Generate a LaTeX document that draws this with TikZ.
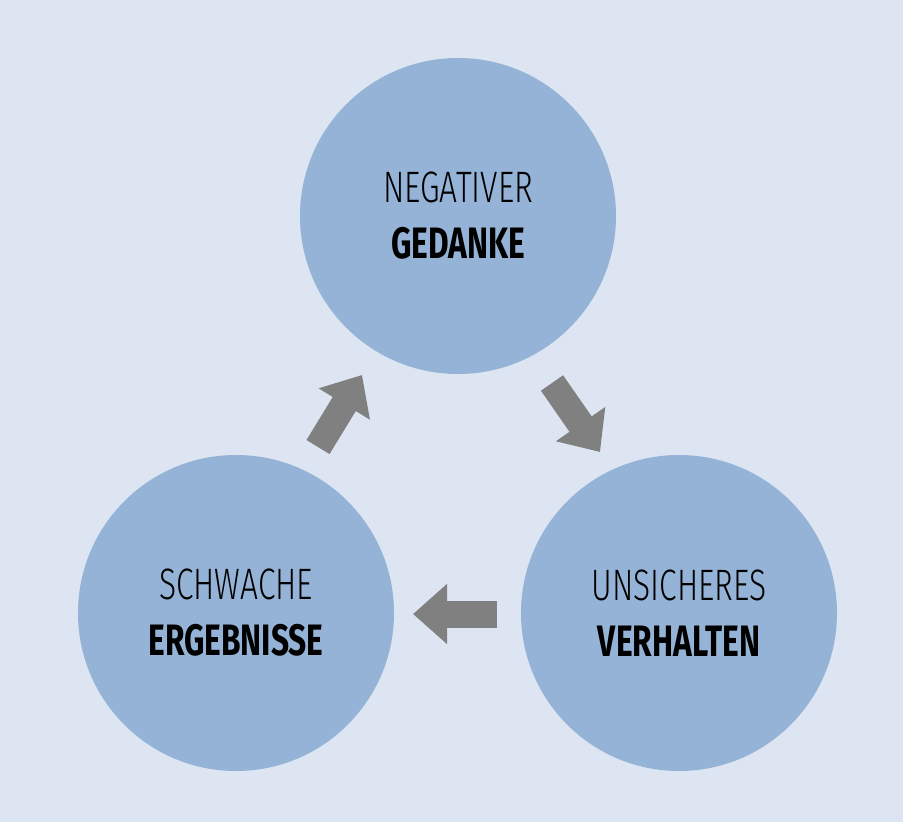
\documentclass[tikz,border=0pt]{standalone}
\usepackage{fontspec}
\setmainfont{Fira Sans}[FakeStretch=0.72]
\newfontfamily\lightf{Fira Sans Light}[FakeStretch=0.72]
\usetikzlibrary{arrows.meta}
\definecolor{bg}{HTML}{DCE5F1}
\definecolor{circ}{HTML}{95B3D7}
\definecolor{arr}{HTML}{808080}
\tikzset{
  bub/.style={circle,fill=circ,minimum size=316pt,inner sep=0pt,align=center,
    font=\fontsize{44}{56}\selectfont},
  blk/.style={draw=arr,line width=27pt,-{Triangle[length=34pt,width=58pt]}}
}
\begin{document}
\begin{tikzpicture}[x=1pt,y=1pt]
\fill[bg] (0,0) rectangle (903,-822);
\useasboundingbox (0,0) rectangle (903,-822);
\node[bub] (t) at (458,-216) {{\lightf NEGATIVER}\\\textbf{GEDANKE}};
\node[bub] (l) at (236,-613) {{\lightf SCHWACHE}\\\textbf{ERGEBNISSE}};
\node[bub] (r) at (679,-613) {{\lightf UNSICHERES}\\\textbf{VERHALTEN}};
\coordinate (a1) at (318,-447); \coordinate (a2) at (362,-375);
\coordinate (b1) at (552,-383); \coordinate (b2) at (600,-452);
\coordinate (c1) at (497,-614); \coordinate (c2) at (413,-614);
\draw[blk] (a1) -- (a2);
\draw[blk] (b1) -- (b2);
\draw[blk] (c1) -- (c2);
\end{tikzpicture}
\end{document}
